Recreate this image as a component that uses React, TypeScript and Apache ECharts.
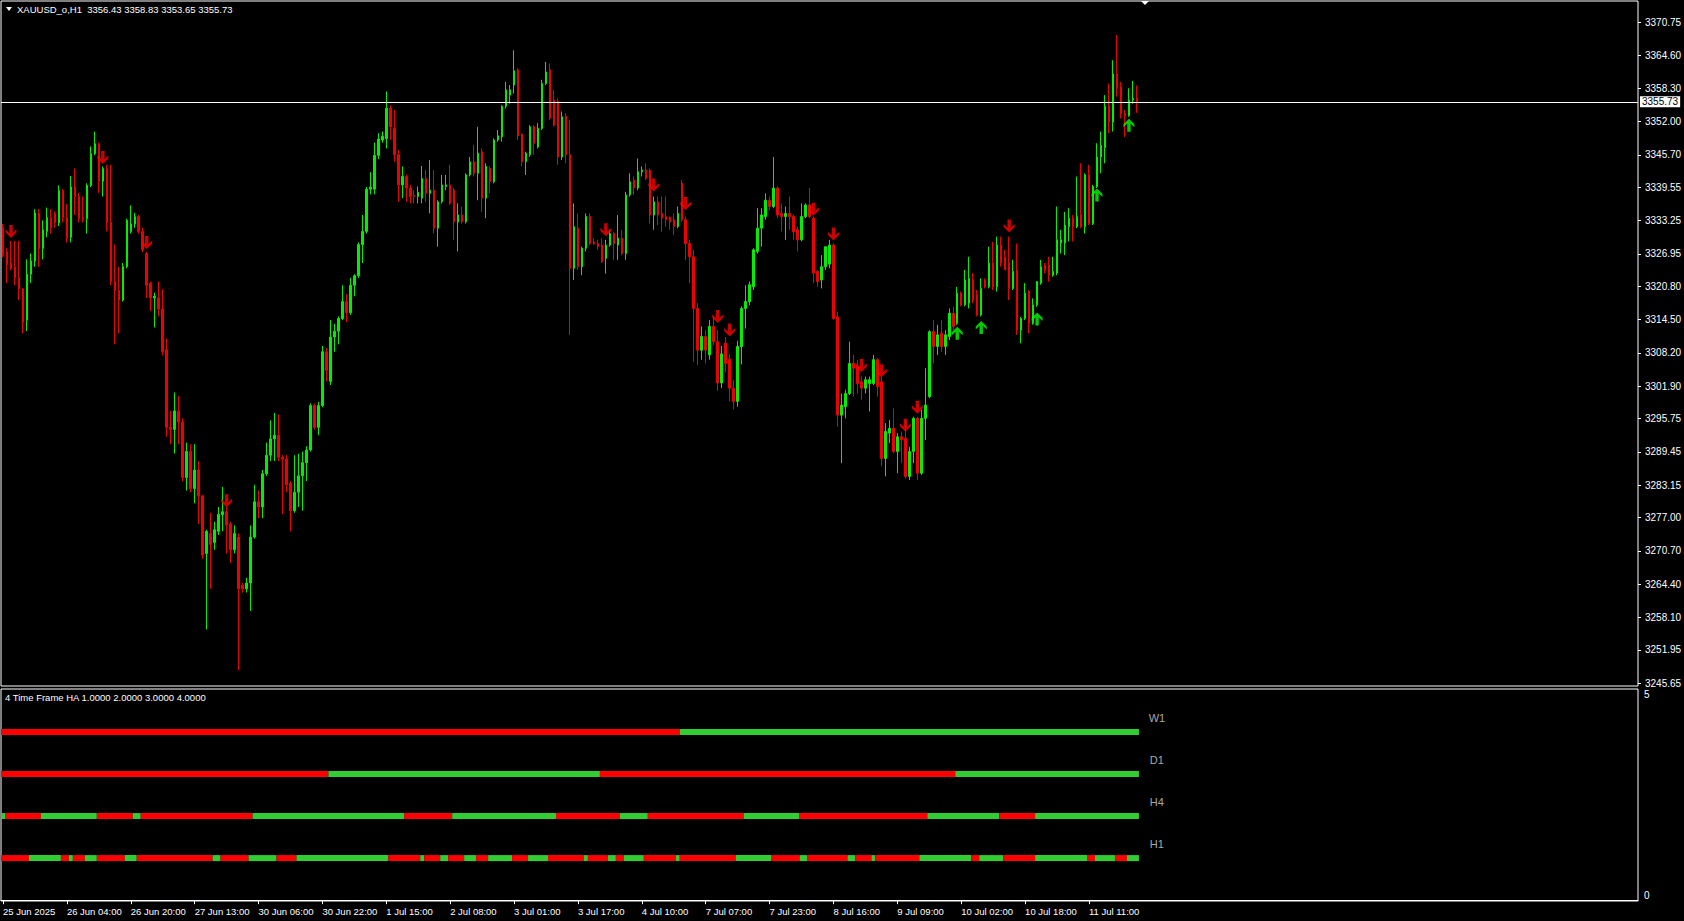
import React, { useEffect, useRef } from 'react';
import * as echarts from 'echarts';

// ---------- DATA ----------
const opens = [
  3331.9,3327.3,3325.2,3324.5,3322.4,3320.3,3314.4,3323.1,3325.6,3334.7,
  3328.0,3331.2,3333.8,3334.5,3332.8,3338.9,3333.8,3330.1,3339.6,3337.8,
  3333.8,3333.6,3339.9,3345.9,3347.8,3340.7,3343.1,3332.9,3321.7,3320.0,
  3318.2,3324.5,3331.2,3332.6,3334.0,3331.2,3327.0,3321.4,3318.6,3318.6,
  3316.5,3308.8,3294.1,3293.7,3297.2,3295.1,3284.6,3289.5,3282.5,3286.0,
  3281.1,3270.2,3274.0,3272.3,3274.4,3277.6,3278.1,3275.8,3270.9,3273.3,
  3264.2,3263.5,3264.6,3273.3,3280.0,3279.0,3285.3,3288.8,3291.9,3292.6,
  3288.4,3288.1,3283.5,3278.3,3281.8,3284.9,3287.4,3289.8,3298.2,3294.1,
  3298.2,3308.4,3302.8,3311.2,3312.3,3314.7,3317.9,3315.8,3321.0,3322.8,
  3328.7,3331.2,3339.2,3339.2,3345.6,3348.5,3348.8,3354.5,3350.7,3345.7,
  3340.0,3341.6,3339.4,3338.0,3337.8,3337.5,3341.2,3338.4,3339.0,3331.8,
  3336.8,3339.7,3340.0,3339.0,3333.0,3334.3,3333.0,3341.9,3344.4,3342.2,
  3346.3,3337.5,3343.1,3340.6,3348.5,3349.1,3354.9,3357.0,3358.9,3361.8,
  3349.6,3344.4,3345.7,3351.0,3347.2,3350.7,3359.2,3361.8,3356.1,3355.8,
  3345.3,3353.0,3345.7,3324.2,3331.8,3324.5,3328.0,3334.0,3329.2,3328.9,
  3328.6,3326.1,3328.6,3330.8,3328.6,3329.9,3327.0,3338.1,3340.9,3339.4,
  3342.5,3342.8,3342.8,3334.3,3336.8,3334.6,3334.0,3333.9,3333.4,3332.1,
  3340.3,3333.4,3328.9,3326.4,3316.6,3308.7,3311.3,3307.8,3313.2,3310.3,
  3302.5,3310.0,3307.0,3301.5,3299.0,3309.4,3316.6,3317.9,3320.7,3327.4,
  3331.8,3334.0,3337.1,3335.9,3339.4,3334.6,3334.0,3334.6,3334.0,3331.5,
  3329.6,3334.0,3336.2,3333.7,3323.6,3322.0,3324.5,3325.0,3328.6,3315.0,
  3296.4,3298.0,3300.5,3306.2,3305.6,3302.7,3301.5,3302.4,3302.4,3306.9,
  3302.7,3288.2,3293.0,3293.9,3289.5,3292.3,3292.0,3284.8,3289.5,3295.8,
  3285.4,3295.8,3299.9,3312.2,3309.4,3311.9,3309.4,3311.3,3315.7,3313.8,
  3319.5,3317.3,3317.6,3322.0,3319.2,3315.4,3322.0,3320.7,3325.2,3320.7,
  3328.6,3326.4,3325.2,3320.4,3323.9,3312.5,3314.7,3319.8,3313.8,3317.3,
  3321.4,3324.8,3324.8,3322.9,3323.3,3329.0,3329.0,3332.1,3333.7,3332.1,
  3334.3,3332.1,3341.9,3332.7,3339.7,3345.3,3347.1,3354.9,3351.9,3361.0,
  3358.6,3353.5,3353.1,3356.1,3356.43,
];
const closes = [
  3326.6,3324.9,3324.2,3322.4,3320.3,3314.0,3323.1,3325.6,3334.7,3328.0,
  3331.5,3333.8,3331.9,3332.8,3338.9,3333.8,3330.0,3339.6,3337.8,3333.6,
  3333.5,3339.9,3345.9,3347.8,3340.7,3343.1,3332.9,3321.7,3320.0,3318.2,
  3324.5,3333.3,3332.6,3334.0,3331.2,3327.7,3321.0,3318.6,3318.9,3316.5,
  3308.4,3294.1,3293.7,3297.2,3295.1,3284.6,3289.5,3282.5,3286.0,3281.1,
  3269.9,3274.4,3271.9,3274.7,3277.6,3278.1,3275.6,3270.9,3274.0,3263.5,
  3263.5,3264.6,3273.3,3280.0,3279.0,3285.3,3288.8,3291.9,3292.6,3288.4,
  3288.1,3283.2,3278.3,3281.8,3284.9,3287.4,3289.8,3298.2,3294.1,3298.2,
  3308.4,3304.9,3311.2,3312.3,3314.7,3317.9,3315.8,3321.0,3322.8,3328.7,
  3331.2,3339.2,3339.6,3345.6,3348.7,3349.2,3354.5,3351.0,3345.7,3340.0,
  3341.6,3339.4,3337.8,3337.8,3338.6,3341.2,3338.4,3339.0,3331.8,3336.8,
  3340.0,3340.0,3336.5,3333.0,3334.3,3333.0,3341.9,3344.4,3342.2,3346.0,
  3337.5,3343.5,3340.6,3348.5,3349.3,3354.9,3358.0,3358.0,3361.6,3349.3,
  3344.4,3346.0,3351.0,3347.9,3350.7,3359.2,3361.4,3352.6,3351.3,3345.3,
  3352.9,3345.7,3324.2,3332.1,3324.5,3328.0,3334.0,3328.9,3328.9,3328.3,
  3325.5,3328.6,3330.8,3328.9,3329.9,3327.0,3338.1,3340.6,3339.4,3342.5,
  3342.8,3341.2,3334.3,3336.8,3334.3,3333.7,3333.4,3333.0,3332.1,3334.6,
  3333.4,3328.9,3326.4,3316.6,3308.7,3311.3,3308.7,3313.2,3310.3,3302.5,
  3308.0,3306.2,3301.5,3299.0,3309.4,3316.6,3317.9,3321.1,3327.7,3331.8,
  3334.3,3337.1,3335.9,3339.4,3334.3,3334.0,3334.6,3334.0,3331.1,3329.6,
  3334.0,3336.2,3334.0,3323.3,3321.7,3324.5,3328.3,3328.6,3314.7,3296.4,
  3298.3,3300.5,3306.2,3305.3,3302.4,3301.5,3303.1,3303.1,3306.9,3301.8,
  3288.2,3293.3,3293.9,3289.5,3292.3,3291.7,3284.8,3289.5,3295.8,3285.4,
  3295.8,3298.3,3312.2,3309.4,3311.6,3309.4,3311.6,3315.7,3313.2,3319.5,
  3317.3,3322.0,3322.3,3318.2,3315.4,3320.4,3320.7,3325.2,3320.7,3328.6,
  3325.2,3323.9,3320.4,3323.6,3312.5,3314.7,3319.5,3313.8,3317.3,3321.7,
  3324.5,3323.9,3322.9,3323.6,3329.6,3329.6,3332.4,3333.7,3332.1,3334.0,
  3332.1,3341.9,3332.7,3339.7,3345.3,3347.5,3354.9,3351.9,3361.0,3358.3,
  3353.5,3353.1,3356.1,3356.4,3355.73,
];
const lows = [
  3326.3,3321.4,3323.8,3321.0,3318.2,3311.9,3312.3,3321.4,3324.5,3324.5,
  3325.9,3330.1,3330.8,3331.9,3332.2,3332.9,3329.1,3329.1,3334.3,3332.9,
  3332.9,3330.8,3339.6,3345.6,3338.5,3337.8,3331.2,3321.0,3309.8,3311.9,
  3317.9,3324.2,3330.8,3331.9,3330.8,3327.3,3318.6,3316.1,3313.0,3315.1,
  3307.7,3292.3,3290.9,3289.1,3290.9,3283.9,3282.1,3281.8,3279.7,3275.8,
  3269.2,3255.8,3263.5,3270.9,3273.7,3274.4,3270.2,3268.4,3270.2,3248.1,
  3262.8,3262.8,3259.3,3273.0,3276.9,3276.9,3284.9,3287.7,3287.7,3287.7,
  3277.6,3281.8,3274.4,3277.9,3279.0,3278.3,3283.9,3289.5,3293.7,3292.6,
  3297.9,3302.8,3302.1,3308.4,3309.8,3314.4,3314.0,3315.4,3318.9,3322.4,
  3325.2,3330.8,3338.2,3338.2,3344.9,3348.0,3346.9,3348.5,3344.4,3336.8,
  3337.5,3336.8,3336.5,3336.5,3336.5,3336.5,3336.8,3334.6,3330.8,3328.3,
  3336.5,3339.0,3336.2,3329.6,3327.4,3332.7,3332.7,3341.6,3341.6,3337.1,
  3334.9,3333.7,3338.4,3340.3,3348.2,3348.2,3354.5,3355.4,3357.3,3348.5,
  3343.5,3341.9,3345.3,3345.7,3346.9,3350.4,3358.9,3352.3,3351.0,3343.8,
  3344.7,3344.1,3311.6,3322.0,3323.9,3322.9,3327.4,3328.6,3328.6,3327.7,
  3325.2,3323.2,3328.3,3325.8,3325.8,3326.7,3325.8,3337.8,3338.1,3339.0,
  3341.6,3340.9,3332.7,3331.5,3332.4,3331.1,3332.1,3331.5,3330.5,3331.8,
  3333.0,3325.8,3321.4,3306.5,3305.9,3306.9,3306.2,3306.9,3309.7,3301.0,
  3301.5,3304.5,3299.0,3297.5,3298.0,3306.0,3312.8,3317.2,3320.1,3327.0,
  3328.3,3333.4,3335.2,3335.6,3333.7,3331.2,3329.6,3331.5,3329.6,3327.4,
  3329.3,3333.7,3333.7,3321.4,3320.7,3320.4,3323.9,3324.2,3314.4,3294.2,
  3287.3,3295.8,3300.2,3299.9,3300.5,3299.3,3300.5,3297.1,3302.1,3299.9,
  3286.7,3284.8,3291.1,3289.2,3285.4,3287.3,3284.4,3284.1,3287.3,3284.1,
  3285.1,3291.7,3299.6,3306.2,3307.8,3308.4,3307.8,3310.6,3312.5,3313.5,
  3317.0,3317.0,3316.6,3317.6,3315.1,3315.1,3320.4,3320.4,3320.1,3319.8,
  3324.5,3323.9,3318.2,3320.1,3311.6,3310.0,3314.4,3311.9,3313.5,3316.9,
  3321.1,3323.3,3321.7,3322.6,3322.9,3327.0,3326.7,3329.3,3329.3,3331.8,
  3331.8,3330.8,3332.4,3332.4,3339.4,3342.2,3344.1,3349.8,3350.1,3356.7,
  3352.6,3349.1,3352.9,3355.4,3353.65,
];
const highs = [
  3332.6,3328.0,3329.4,3329.4,3329.4,3320.5,3325.9,3327.0,3335.4,3335.4,
  3333.3,3335.7,3335.4,3335.0,3339.9,3339.2,3336.4,3341.7,3343.1,3338.5,
  3337.8,3340.3,3347.3,3350.1,3348.0,3343.5,3343.8,3343.8,3328.7,3324.5,
  3325.2,3333.6,3336.1,3334.7,3334.3,3331.9,3327.3,3321.7,3319.6,3321.7,
  3320.3,3310.9,3297.2,3300.7,3300.0,3295.8,3291.2,3290.9,3290.9,3287.7,
  3281.3,3274.7,3277.9,3276.2,3279.0,3282.8,3279.0,3276.2,3275.5,3274.0,
  3264.6,3265.6,3275.5,3283.2,3282.1,3286.0,3291.2,3295.4,3296.8,3296.5,
  3288.8,3288.8,3283.9,3288.8,3289.1,3289.5,3290.5,3298.6,3298.6,3298.9,
  3309.5,3309.1,3314.4,3313.7,3315.1,3321.0,3319.3,3322.4,3323.1,3329.1,
  3334.3,3339.6,3342.4,3348.0,3349.8,3350.1,3357.7,3355.1,3354.2,3346.6,
  3343.5,3341.9,3340.0,3339.0,3339.7,3343.6,3342.8,3344.7,3342.8,3337.1,
  3341.9,3341.9,3343.8,3339.4,3336.5,3335.9,3342.2,3345.3,3347.6,3351.0,
  3346.9,3344.1,3343.5,3348.8,3350.4,3355.1,3359.5,3358.9,3365.5,3362.1,
  3349.8,3346.3,3351.3,3351.3,3351.7,3359.9,3363.3,3363.0,3358.0,3356.4,
  3353.9,3353.6,3352.3,3336.5,3334.6,3328.3,3334.6,3334.6,3329.9,3329.6,
  3329.9,3329.6,3331.5,3331.1,3334.3,3331.5,3338.7,3342.2,3341.6,3345.0,
  3343.5,3344.1,3343.1,3337.8,3337.8,3337.8,3337.8,3334.0,3334.6,3335.9,
  3340.9,3334.0,3329.6,3327.7,3317.6,3313.2,3312.5,3314.4,3315.0,3312.5,
  3309.5,3311.2,3308.0,3303.0,3310.5,3317.0,3321.0,3321.7,3328.0,3335.6,
  3335.6,3338.4,3337.8,3345.3,3339.7,3336.5,3335.9,3337.8,3334.3,3332.1,
  3336.5,3336.5,3339.4,3334.0,3323.9,3326.7,3328.3,3329.6,3328.9,3316.0,
  3300.5,3301.2,3310.3,3307.8,3306.8,3303.7,3303.7,3303.7,3307.8,3307.2,
  3303.7,3294.9,3295.5,3297.7,3293.0,3293.3,3295.5,3290.4,3296.1,3296.1,
  3297.4,3305.3,3312.5,3314.4,3313.5,3314.4,3312.5,3316.6,3316.9,3320.7,
  3319.8,3323.9,3326.4,3323.3,3320.1,3322.3,3322.3,3328.3,3329.2,3330.2,
  3330.2,3327.7,3330.2,3325.8,3328.9,3315.0,3321.4,3320.1,3318.5,3321.7,
  3325.8,3325.2,3326.4,3326.4,3335.9,3331.5,3334.9,3335.6,3334.3,3341.6,
  3344.1,3342.2,3343.8,3340.0,3347.9,3350.1,3357.0,3359.2,3363.6,3368.4,
  3359.5,3354.2,3358.3,3359.7,3358.83,
];

// signal arrows: [bar index, price]
const downArrows = [
  [2, 3331.2], [25, 3345.2], [36, 3329.1], [56, 3280.2], [151, 3331.5], [163, 3340.0],
  [171, 3336.5], [179, 3315.1], [182, 3312.5], [203, 3335.4], [208, 3330.7], [215, 3305.8],
  [220, 3304.8], [226, 3294.5], [229, 3297.9], [252, 3332.2],
];
const upArrows = [
  [239, 3311.9], [245, 3313.0], [259, 3314.6], [274, 3338.1], [282, 3351.3],
];

const timeLabels = [
  '25 Jun 2025', '26 Jun 04:00', '26 Jun 20:00', '27 Jun 13:00', '30 Jun 06:00', '30 Jun 22:00',
  '1 Jul 15:00', '2 Jul 08:00', '3 Jul 01:00', '3 Jul 17:00', '4 Jul 10:00', '7 Jul 07:00',
  '7 Jul 23:00', '8 Jul 16:00', '9 Jul 09:00', '10 Jul 02:00', '10 Jul 18:00', '11 Jul 11:00',
];
const LABEL_EVERY = 16;
const TOTAL_SLOTS = 410;

const priceTicks = [
  3370.75, 3364.60, 3358.30, 3352.00, 3345.70, 3339.55, 3333.25, 3326.95, 3320.80, 3314.50,
  3308.20, 3301.90, 3295.75, 3289.45, 3283.15, 3277.00, 3270.70, 3264.40, 3258.10, 3251.95, 3245.65,
];
const priceMin = 3245.10;
const priceMax = 3374.83;
const lastPrice = 3355.73;
const titleText = 'XAUUSD_o,H1  3356.43 3358.83 3353.65 3355.73';
const indicatorTitle = '4 Time Frame HA 1.0000 2.0000 3.0000 4.0000';

// Heikin-Ashi trend runs: [first bar, last bar, state (1 up / 0 down)]
const w1Runs = [[0, 169, 0], [170, 284, 1]];
const d1Runs = [[0, 81, 0], [82, 149, 1], [150, 238, 0], [239, 284, 1]];
const h4Runs = [
  [0, 0, 1], [1, 9, 0], [10, 23, 1], [24, 32, 0], [33, 34, 1], [35, 62, 0], [63, 100, 1],
  [101, 112, 0], [113, 138, 1], [139, 154, 0], [155, 161, 1], [162, 185, 0], [186, 199, 1],
  [200, 231, 0], [232, 249, 1], [250, 258, 0], [259, 284, 1],
];
const h1Runs = [
  [0, 6, 0], [7, 14, 1], [15, 16, 0], [17, 17, 1], [18, 20, 0], [21, 23, 1], [24, 30, 0],
  [31, 33, 1], [34, 52, 0], [53, 54, 1], [55, 61, 0], [62, 68, 1], [69, 73, 0], [74, 96, 1],
  [97, 104, 0], [105, 105, 1], [106, 109, 0], [110, 111, 1], [112, 115, 0], [116, 118, 1],
  [119, 121, 0], [122, 127, 1], [128, 131, 0], [132, 136, 1], [137, 145, 0], [146, 146, 1],
  [147, 151, 0], [152, 153, 1], [154, 155, 0], [156, 160, 1], [161, 168, 0], [169, 169, 1],
  [170, 183, 0], [184, 192, 1], [193, 199, 0], [200, 201, 1], [202, 211, 0], [212, 213, 1],
  [214, 217, 0], [218, 218, 1], [219, 229, 0], [230, 242, 1], [243, 244, 0], [245, 250, 1],
  [251, 258, 0], [259, 271, 1], [272, 273, 0], [274, 278, 1], [279, 281, 0], [282, 284, 1],
];
const tfNames = ['W1', 'D1', 'H4', 'H1'];
const tfLevels = [4, 3, 2, 1];
const tfLabelSlot = 289;

// ---------- STYLE ----------
const CANDLE_UP = '#00ee00';
const CANDLE_DOWN = '#ee0000';
const HA_UP = '#32cd32';
const HA_DOWN = '#ff0000';
const FONT = '"Liberation Sans", Arial, sans-serif';
const DOWN_PATH = 'path://M5.5,13 L11,7.5 L11,4.5 L7.2,8.1 L7.2,0 L3.8,0 L3.8,8.1 L0,4.5 L0,7.5 Z';
const UP_PATH = 'path://M5.5,0 L11,5.5 L11,8.5 L7.2,4.9 L7.2,13 L3.8,13 L3.8,4.9 L0,8.5 L0,5.5 Z';

export default function App() {
  const ref = useRef<HTMLDivElement>(null);

  useEffect(() => {
    document.body.style.margin = '0';
    document.body.style.background = '#000';
    if (!ref.current) return;
    const chart = echarts.init(ref.current, null, { renderer: 'svg' });

    const categories = Array.from({ length: TOTAL_SLOTS }, (_, i) => String(i));
    const candleData = opens.map((o, i) => [o, closes[i], lows[i], highs[i]]);
    const runData: any[] = [];
    [w1Runs, d1Runs, h4Runs, h1Runs].forEach((runs, k) => {
      runs.forEach((r) => runData.push([r[0], r[1], tfLevels[k], r[2]]));
    });
    const tfLabelData = tfLevels.map((lv) => [tfLabelSlot, lv]);
    const showEvery = (idx: number) => idx % LABEL_EVERY === 0 && idx / LABEL_EVERY < timeLabels.length;

    const option: any = {
      animation: false,
      backgroundColor: '#000',
      textStyle: { fontFamily: FONT },
      grid: [
        { left: 1, top: 1, width: 1637, height: 685, show: true, borderColor: '#fff', borderWidth: 1, backgroundColor: '#000', outerBoundsMode: 'none', containLabel: false },
        { left: 1, top: 689, width: 1637, height: 212, show: true, borderColor: '#fff', borderWidth: 1, backgroundColor: '#000', outerBoundsMode: 'none', containLabel: false },
      ],
      xAxis: [
        {
          type: 'category', gridIndex: 0, data: categories, boundaryGap: true,
          axisLine: { show: false }, axisTick: { show: false }, axisLabel: { show: false }, splitLine: { show: false },
        },
        {
          type: 'category', gridIndex: 1, data: categories, boundaryGap: true, position: 'bottom',
          axisLine: { show: true, lineStyle: { color: '#fff', width: 1 } },
          axisTick: { show: true, alignWithLabel: true, length: 4, interval: showEvery, lineStyle: { color: '#fff' } },
          axisLabel: {
            show: true, interval: showEvery, color: '#fff', fontSize: 9.5, fontFamily: FONT, align: 'left', margin: 5,
            formatter: (_v: string, idx: number) => timeLabels[idx / LABEL_EVERY] ?? '',
          },
          splitLine: { show: false },
        },
      ],
      yAxis: [
        {
          type: 'value', gridIndex: 0, position: 'right', min: priceMin, max: priceMax, scale: true,
          splitLine: { show: false }, axisLine: { show: false },
          axisTick: { show: true, customValues: priceTicks, length: 3, lineStyle: { color: '#fff' } },
          axisLabel: { show: true, customValues: priceTicks, color: '#fff', fontSize: 10, fontFamily: FONT, margin: 7, formatter: (v: number) => v.toFixed(2) },
        },
        {
          type: 'value', gridIndex: 1, position: 'right', min: -0.02, max: 5.02,
          splitLine: { show: false }, axisLine: { show: false }, axisTick: { show: false },
          axisLabel: {
            show: true, customValues: [0, 5], color: '#fff', fontSize: 10, fontFamily: FONT, margin: 6,
            verticalAlignMinLabel: 'bottom', verticalAlignMaxLabel: 'top',
            formatter: (v: number) => String(Math.round(v)),
          },
        },
      ],
      series: [
        {
          type: 'candlestick', xAxisIndex: 0, yAxisIndex: 0, data: candleData, barWidth: 2,
          itemStyle: { color: CANDLE_UP, color0: CANDLE_DOWN, borderColor: CANDLE_UP, borderColor0: CANDLE_DOWN, borderWidth: 1 },
          silent: true,
          markLine: {
            silent: true, symbol: ['none', 'none'], animation: false,
            lineStyle: { color: '#fff', width: 1, type: 'solid' },
            label: {
              show: true, position: 'end', formatter: lastPrice.toFixed(2), color: '#000', backgroundColor: '#fff',
              padding: [1, 2, 0, 2], fontSize: 10, fontFamily: FONT, distance: 2,
            },
            emphasis: { disabled: true },
            data: [{ yAxis: lastPrice }],
          },
        },
        {
          type: 'scatter', xAxisIndex: 0, yAxisIndex: 0, data: downArrows, symbol: DOWN_PATH, symbolSize: [11, 13],
          itemStyle: { color: '#ff0000' }, silent: true, z: 5,
        },
        {
          type: 'scatter', xAxisIndex: 0, yAxisIndex: 0, data: upArrows, symbol: UP_PATH, symbolSize: [11, 13],
          itemStyle: { color: '#00ff00' }, silent: true, z: 5,
        },
        {
          type: 'custom', xAxisIndex: 1, yAxisIndex: 1, data: runData, silent: true,
          encode: { x: [0, 1], y: 2 },
          renderItem: (_params: any, api: any) => {
            const s = api.coord([api.value(0), api.value(2)]);
            const e = api.coord([api.value(1), api.value(2)]);
            const band = api.size([1, 0])[0];
            return {
              type: 'rect',
              shape: { x: s[0] - band / 2, y: s[1] - 3, width: e[0] - s[0] + band, height: 6 },
              style: { fill: api.value(3) ? HA_UP : HA_DOWN },
            };
          },
        },
        {
          type: 'custom', xAxisIndex: 1, yAxisIndex: 1, data: tfLabelData, silent: true,
          encode: { x: 0, y: 1 },
          renderItem: (params: any, api: any) => {
            const p = api.coord([api.value(0), api.value(1)]);
            return {
              type: 'text', x: p[0], y: p[1] - 14,
              style: { text: tfNames[params.dataIndex], fill: '#a8a8a8', font: `11px ${FONT}`, align: 'center', verticalAlign: 'middle' },
            };
          },
        },
      ],
      graphic: [
        { type: 'polygon', shape: { points: [[6, 7], [12, 7], [9, 11]] }, style: { fill: '#fff' }, silent: true },
        { type: 'text', x: 17, y: 9, style: { text: titleText, fill: '#fff', font: `9.5px ${FONT}`, verticalAlign: 'middle' }, silent: true },
        { type: 'text', x: 5, y: 697, style: { text: indicatorTitle, fill: '#fff', font: `9.5px ${FONT}`, verticalAlign: 'middle' }, silent: true },
        { type: 'polygon', shape: { points: [[1141, 1], [1149, 1], [1145, 5]] }, style: { fill: '#fff' }, silent: true },
      ],
    };

    chart.setOption(option);
    return () => chart.dispose();
  }, []);

  return <div ref={ref} style={{ width: 1684, height: 921, background: '#000' }} />;
}
